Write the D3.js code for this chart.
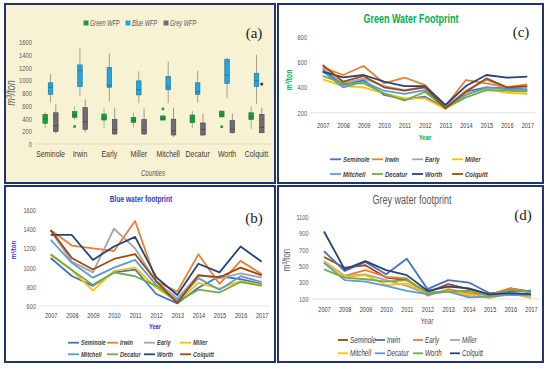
<!DOCTYPE html>
<html><head><meta charset="utf-8">
<script src="https://cdn.jsdelivr.net/npm/d3@7"></script>
<style>body{margin:0;background:#fff}svg{display:block}</style>
</head><body><svg id="c" width="550" height="369"></svg>
<script>
// ---------- DATA ----------
const counties = ["Seminole","Irwin","Early","Miller","Mitchell","Decatur","Worth","Colquitt"];
const years = [2007,2008,2009,2010,2011,2012,2013,2014,2015,2016,2017];
const boxTicks = [0,200,400,600,800,1000,1200,1400,1600];
// box stats per county: [min, q1, median, q3, max]
const greenBox = [[245,325,390,465,505],[376,418,450,507,590],[246,376,410,470,570],[256,340,370,418,490],
                  [360,376,400,440,460],[246,334,390,455,520],[420,425,460,515,530],[235,385,430,490,590]];
const blueBox  = [[650,780,890,960,1100],[750,900,1150,1240,1500],[670,890,920,1200,1420],[640,770,850,990,1140],
                  [640,850,900,1060,1290],[650,780,820,960,1150],[720,950,1080,1330,1350],[630,900,990,1110,1400]];
const greyBox  = [[167,193,287,490,620],[177,230,350,570,700],[141,157,225,385,570],[141,157,220,385,555],
                  [110,141,210,390,570],[130,141,230,330,480],[160,177,230,370,480],[165,177,260,465,570]];
const boxOutliers = [["Irwin","green",275],["Mitchell","green",550],["Worth","green",270],["Colquitt","grey",940]];

// Green water footprint (c), county order
const greenLines = [
 [540,420,460,341,306,327,235,367,402,394,386],
 [560,500,572,434,480,420,253,460,434,402,425],
 [553,434,473,412,380,407,248,375,460,402,402],
 [466,412,402,354,314,314,229,354,386,359,349],
 [527,402,447,375,349,380,242,341,402,386,380],
 [492,434,434,354,296,367,235,322,380,375,367],
 [527,481,500,447,412,412,261,412,500,479,487],
 [580,447,492,402,375,402,235,367,473,402,412]];
const greenTicks = [200,400,600,800];

// Blue water footprint (b)
const blueLines = [
 [1100,912,810,950,980,725,628,790,910,881,830],
 [1390,1230,1200,1173,1485,855,750,1138,830,1070,930],
 [1385,1062,950,1405,1200,853,680,923,888,940,895],
 [1130,975,760,965,1000,790,645,840,780,860,820],
 [1290,1050,895,1000,1080,820,660,890,770,910,850],
 [1140,975,820,950,910,810,645,770,740,850,810],
 [1340,1340,1080,1220,1320,900,715,1040,950,1220,1060],
 [1390,1100,980,1090,1140,860,630,920,900,1000,920]];
const blueTicks = [600,800,1000,1200,1400,1600];

// Grey water footprint (d)
const greyLines = [
 [610,480,510,360,330,180,280,220,150,230,190],
 [680,440,550,400,590,220,330,300,170,189,200],
 [560,380,450,370,350,140,220,170,150,230,180],
 [550,380,400,330,260,160,200,140,130,160,140],
 [560,370,390,270,290,170,200,150,110,170,110],
 [540,330,310,260,200,160,190,120,130,150,140],
 [460,360,340,310,330,180,190,200,140,210,180],
 [920,460,560,450,390,200,250,230,157,170,160]];
const greyTicks = [100,300,500,700,900,1100];

const palBC = ["#4472c4","#ed7d31","#a5a5a5","#ffc000","#5b9bd5","#70ad47","#264478","#9e480e"];
const palD  = ["#9e480e","#4472c4","#ed7d31","#a5a5a5","#ffc000","#5b9bd5","#70ad47","#264478"];

// ---------- DRAW ----------
const SANS = "'Liberation Sans',Arial,sans-serif";
const SERIF = "'Liberation Serif','DejaVu Serif',serif";
const svg = d3.select("#c");
const BORDER = "#1f3572";
const fmt = d3.format("d");

// panel frames
svg.append("rect").attr("x",5).attr("y",4).attr("width",270).attr("height",179).attr("fill","#f7f2d4").attr("stroke",BORDER).attr("stroke-width",2);
svg.append("rect").attr("x",278).attr("y",4).attr("width",265).attr("height",179).attr("fill","#fff").attr("stroke",BORDER).attr("stroke-width",2);
svg.append("rect").attr("x",5).attr("y",186).attr("width",270).attr("height",176).attr("fill","#fff").attr("stroke",BORDER).attr("stroke-width",2);
svg.append("rect").attr("x",278).attr("y",186).attr("width",265).attr("height",176).attr("fill","#fff").attr("stroke",BORDER).attr("stroke-width",2);

// ---------- Panel (a) boxplot ----------
(function(){
  const g = svg.append("g");
  const x = d3.scaleBand().domain(counties).range([35.8,271.2]);
  const y = d3.scaleLinear().domain([0,1600]).range([144,42]);
  g.append("line").attr("x1",35).attr("x2",271).attr("y1",y(0)).attr("y2",y(0)).attr("stroke","#d9d4b8").attr("stroke-width",0.8);
  const ag = g.append("g").attr("transform","translate(32,0)")
    .call(d3.axisLeft(y).tickValues(boxTicks).tickFormat(fmt).tickSize(0).tickPadding(0));
  ag.select(".domain").remove();
  ag.selectAll("text").attr("font-family",SANS).attr("font-size",7.8).attr("fill","#595959").attr("class","cz");
  const xg = g.append("g").attr("transform","translate(0,150.5)").call(d3.axisBottom(x).tickSize(0).tickPadding(0));
  xg.select(".domain").remove();
  xg.selectAll("text").attr("font-family",SANS).attr("font-size",9.2).attr("fill","#3a3a3a").attr("dy","0.71em")
    .attr("class","cz").attr("data-c",0.75);

  const series = [
    {name:"green", data:greenBox, off:-5.3, fill:"#1e9b3c", stroke:"#137a2c", wh:"#8ab58a"},
    {name:"blue",  data:blueBox,  off:0,    fill:"#22a6db", stroke:"#1a6f99", wh:"#9a9a88"},
    {name:"grey",  data:greyBox,  off:5.3,  fill:"#6e6d73", stroke:"#45444a", wh:"#8f8f8f"}];
  const bw = 4.6;
  series.forEach(s=>{
    const sg = g.append("g");
    const items = counties.map((c,i)=>({c, v:s.data[i]}));
    const cx = d=> x(d.c)+x.bandwidth()/2+s.off;
    sg.selectAll(".wh").data(items).join("line").attr("x1",cx).attr("x2",cx)
      .attr("y1",d=>y(d.v[4])).attr("y2",d=>y(d.v[0])).attr("stroke",s.wh).attr("stroke-width",0.9);
    sg.selectAll(".bx").data(items).join("rect").attr("x",d=>cx(d)-bw/2).attr("width",bw)
      .attr("y",d=>y(d.v[3])).attr("height",d=>y(d.v[1])-y(d.v[3]))
      .attr("fill",s.fill).attr("stroke",s.stroke).attr("stroke-width",0.6);
    sg.selectAll(".md").data(items).join("line").attr("x1",d=>cx(d)-bw/2).attr("x2",d=>cx(d)+bw/2)
      .attr("y1",d=>y(d.v[2])).attr("y2",d=>y(d.v[2])).attr("stroke",s.stroke).attr("stroke-width",0.8);
    const outs = boxOutliers.filter(o=>o[1]===s.name);
    sg.selectAll(".ol").data(outs).join("rect")
      .attr("x",o=>x(o[0])+x.bandwidth()/2+s.off-1.3).attr("y",o=>y(o[2])-1.3).attr("width",2.6).attr("height",2.6)
      .attr("fill",s.name==="grey"?"#333":s.fill);
  });
  // legend
  const leg = [["Green WFP","#1e9b3c",86],["Blue WFP","#22a6db",128],["Grey WFP","#6e6d73",166]];
  leg.forEach(l=>{
    g.append("rect").attr("x",l[2]-2.5).attr("y",20.5).attr("width",5).attr("height",5).attr("fill",l[1]);
    g.append("text").attr("x",l[2]+4).attr("y",26).attr("font-family",SANS).attr("font-style","italic")
      .attr("font-size",8.5).attr("fill","#595959").attr("class","cz").attr("data-c",0.66).text(l[0]);
  });
  g.append("text").attr("x",153).attr("y",176).attr("text-anchor","middle").attr("font-family",SANS)
    .attr("font-style","italic").attr("font-size",9).attr("fill","#595959").attr("class","cz").attr("data-c",0.68).text("Counties");
  g.append("text").attr("transform","translate(15,93) rotate(-90)").attr("text-anchor","middle").attr("font-family",SANS)
    .attr("font-style","italic").attr("font-size",12).attr("fill","#595959").attr("class","cz").text("m³/ton");
  g.append("text").attr("x",254).attr("y",38).attr("text-anchor","middle").attr("font-family",SERIF)
    .attr("font-size",15).attr("fill","#222").text("(a)");
})();

// ---------- line panels ----------
function linePanel(cfg){
  const g = svg.append("g");
  const x = d3.scalePoint().domain(years).range(cfg.xr);
  const y = d3.scaleLinear().domain(cfg.yd).range(cfg.yr);
  g.append("line").attr("x1",cfg.xr[0]-12).attr("x2",cfg.xr[1]+8).attr("y1",y(cfg.yd[0])).attr("y2",y(cfg.yd[0]))
    .attr("stroke","#d9d9d9").attr("stroke-width",0.8);
  const ag = g.append("g").attr("transform",`translate(${cfg.tickX},0)`)
    .call(d3.axisLeft(y).tickValues(cfg.ticks).tickFormat(fmt).tickSize(0).tickPadding(0));
  ag.select(".domain").remove();
  ag.selectAll("text").attr("font-family",SANS).attr("font-size",7.5).attr("fill","#595959").attr("class","cz");
  const xg = g.append("g").attr("transform",`translate(0,${cfg.xLabY})`)
    .call(d3.axisBottom(x).tickFormat(fmt).tickSize(0).tickPadding(0));
  xg.select(".domain").remove();
  xg.selectAll("text").attr("font-family",SANS).attr("font-size",7.4).attr("fill","#3a3a3a").attr("dy","0.35em").attr("class","cz");
  const line = d3.line().x((d,i)=>x(years[i])).y(d=>y(d));
  cfg.data.forEach((s,i)=>{
    g.append("path").attr("d",line(s)).attr("fill","none").attr("stroke",cfg.pal[i]).attr("stroke-width",1.8)
      .attr("stroke-linejoin","round");
  });
  g.append("text").attr("x",cfg.title[1]).attr("y",cfg.title[2]).attr("text-anchor","middle").attr("font-family",SANS)
    .attr("font-size",cfg.title[3]).attr("font-weight",cfg.title[5]).attr("fill",cfg.title[4]).attr("class","cz").text(cfg.title[0]);
  g.append("text").attr("x",cfg.year[0]).attr("y",cfg.year[1]).attr("text-anchor","middle").attr("font-family",SANS)
    .attr("font-size",cfg.year[2]).attr("font-weight",cfg.title[5]).attr("fill",cfg.year[3]).attr("class","cz").text("Year");
  g.append("text").attr("transform",`translate(${cfg.ylab[0]},${cfg.ylab[1]}) rotate(-90)`).attr("text-anchor","middle")
    .attr("font-family",SANS).attr("font-size",cfg.ylab[2]).attr("font-weight",cfg.title[5]).attr("fill",cfg.ylab[3])
    .attr("class","cz").text("m³/ton");
  g.append("text").attr("x",cfg.tag[0]).attr("y",cfg.tag[1]).attr("text-anchor","middle").attr("font-family",SERIF)
    .attr("font-size",15).attr("fill","#222").text(cfg.tag[2]);
  counties.forEach((c,i)=>{
    const lx = cfg.legX[i%4], ly = cfg.legY[Math.floor(i/4)];
    g.append("line").attr("x1",lx).attr("x2",lx+cfg.sw).attr("y1",ly).attr("y2",ly).attr("stroke",cfg.pal[i]).attr("stroke-width",1.8);
    g.append("text").attr("x",lx+cfg.sw+2).attr("y",ly).attr("dy","0.35em").attr("font-family",SANS)
      .attr("font-style","italic").attr("font-weight",cfg.legW).attr("font-size",cfg.legS).attr("fill","#404040")
      .attr("class","cz").text(c);
  });
}

linePanel({xr:[322.7,527.3], yd:[200,800], yr:[112.7,37.3], ticks:greenTicks, tickX:307, xLabY:125,
  data:greenLines, pal:palBC, title:["Green Water Footprint",411,23,12,"#00b050","bold"],
  year:[425,140,8,"#00b050"], ylab:[292,80,9,"#00b050"], tag:[521,37,"(c)"],
  legX:[330,372,412,452], legY:[159.3,174], sw:11, legW:"bold", legS:8});

linePanel({xr:[50.7,261.7], yd:[600,1600], yr:[306,210], ticks:blueTicks, tickX:36, xLabY:315,
  data:blueLines, pal:palBC, title:["Blue water footprint",141,201.5,8.8,"#3535c8","bold"],
  year:[155,328.5,7.5,"#3535c8"], ylab:[16,250,8,"#3535c8"], tag:[254,223,"(b)"],
  legX:[68,107,144,180], legY:[342.7,354.3], sw:11, legW:"bold", legS:7.4});

linePanel({xr:[324,531], yd:[100,1100], yr:[299,216.7], ticks:greyTicks, tickX:308.5, xLabY:309,
  data:greyLines, pal:palD, title:["Grey water footprint",412,204,12,"#595959","normal"],
  year:[427,324,8.5,"#595959"], ylab:[290,260,10.5,"#595959"], tag:[523,220,"(d)"],
  legX:[338,375,413,450], legY:[340,353.3], sw:10, legW:"normal", legS:8.3});

// condense sans text to emulate the narrow (Calibri-like) face of the original
svg.selectAll("text.cz").each(function(){
  const f = +(this.getAttribute("data-c") || 0.75);
  const w = this.getComputedTextLength();
  if (w > 0) { this.setAttribute("textLength", (w*f).toFixed(2)); this.setAttribute("lengthAdjust","spacingAndGlyphs"); }
});
</script></body></html>
